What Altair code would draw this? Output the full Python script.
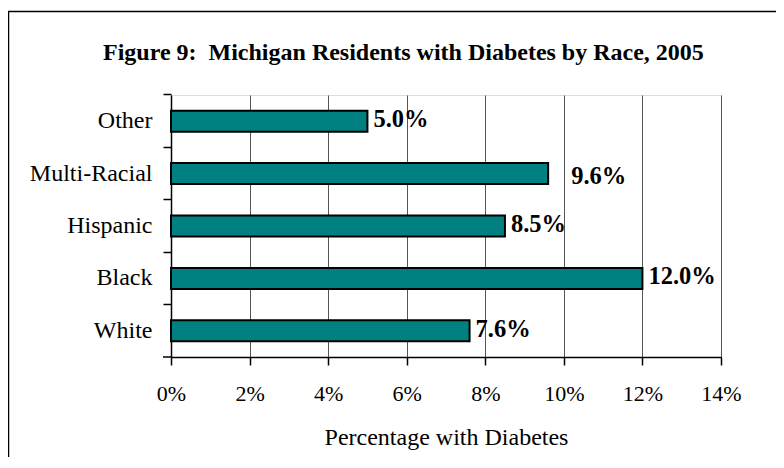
import altair as alt
import pandas as pd

title_text = "Figure 9:\u00a0 Michigan Residents with Diabetes by Race, 2005"
races = ["Other", "Multi-Racial", "Hispanic", "Black", "White"]
pcts = [5.0, 9.6, 8.5, 12.0, 7.6]
x_ticks = [0, 2, 4, 6, 8, 10, 12, 14]

df = pd.DataFrame({"race": races, "pct": pcts})
FONT = "Liberation Serif"

base = alt.Chart(df)

y_enc = alt.Y(
    "race:N",
    sort=races,
    title=None,
    scale=alt.Scale(paddingInner=0.6, paddingOuter=0.3),
    axis=alt.Axis(
        labelFont=FONT, labelFontSize=24, labelColor="black",
        labelPadding=11, tickSize=8, tickColor="black", tickWidth=1.5,
        domainColor="black", domainWidth=1.5, bandPosition=-0.75,
        grid=False,
    ),
)

x_enc = alt.X(
    "pct:Q",
    scale=alt.Scale(domain=[0, 14], nice=False),
    title="Percentage with Diabetes",
    axis=alt.Axis(
        values=x_ticks, labelExpr="datum.value + '%'", labelFlush=False,
        labelFont=FONT, labelFontSize=22, labelColor="black", labelPadding=18,
        tickSize=8, tickColor="black", tickWidth=1.5,
        domainColor="black", domainWidth=1.5,
        grid=True, gridColor="#555555", gridWidth=1,
        titleFont=FONT, titleFontSize=24, titleFontWeight="normal",
        titleColor="black", titlePadding=21,
    ),
)

bars = base.mark_bar(color="#008080", stroke="black", strokeWidth=2).encode(
    x=x_enc, y=y_enc
)

labels_main = base.transform_filter(
    alt.datum.race != "Multi-Racial"
).transform_calculate(
    label="format(datum.pct, '.1f') + '%'"
).mark_text(
    align="left", baseline="middle", dx=6, dy=-1,
    font=FONT, fontSize=24.5, fontWeight="bold", color="black",
).encode(x="pct:Q", y=alt.Y("race:N", sort=races), text="label:N")

labels_mr = base.transform_filter(
    alt.datum.race == "Multi-Racial"
).transform_calculate(
    label="format(datum.pct, '.1f') + '%'"
).mark_text(
    align="left", baseline="middle", dx=23, dy=3,
    font=FONT, fontSize=24.5, fontWeight="bold", color="black",
).encode(x="pct:Q", y=alt.Y("race:N", sort=races), text="label:N")

deco = alt.Chart(alt.Data(values=[{"t": title_text}]))

bottom_tick = deco.mark_rule(color="black", strokeWidth=1.5).encode(
    x=alt.value(-8), x2=alt.value(0), y=alt.value(262)
)

frame = deco.mark_rect(
    fillOpacity=0, stroke="black", strokeWidth=1.5, clip=False
).encode(
    x=alt.value(-162.5), y=alt.value(-83.5), x2=alt.value(2000), y2=alt.value(2000)
)

title = deco.mark_text(
    align="left", baseline="alphabetic",
    font=FONT, fontSize=24, fontWeight="bold", color="black",
).encode(x=alt.value(-68), y=alt.value(-35), text="t:N")

chart = alt.layer(frame, bars, labels_main, labels_mr, bottom_tick, title).properties(
    width=550,
    height=262,
    autosize=alt.AutoSizeParams(type="none"),
    padding={"left": 163, "top": 87, "right": 55, "bottom": 100},
).configure_view(
    stroke="#808080", strokeWidth=2
).configure(background="white")

chart.save("out.html", embed_options={"renderer": "svg", "actions": False})
